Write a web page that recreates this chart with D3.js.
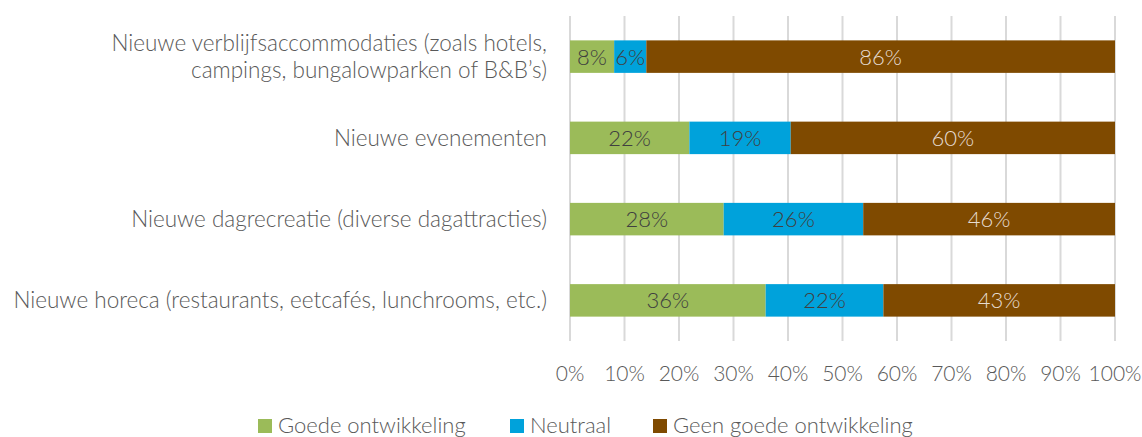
<!DOCTYPE html>
<html>
<head>
<meta charset="utf-8">
<script src="https://cdn.jsdelivr.net/npm/d3@7"></script>
<style>
  body { margin: 0; background: #fff; }
  svg text { font-family: "Source Sans Pro", Lato, "Open Sans", sans-serif; font-weight: 300; }
</style>
</head>
<body>
<div class="chart"></div>
<script>
var categories = [
  ["Nieuwe verblijfsaccommodaties (zoals hotels,", "campings, bungalowparken of B&B\u2019s)"],
  ["Nieuwe evenementen"],
  ["Nieuwe dagrecreatie (diverse dagattracties)"],
  ["Nieuwe horeca (restaurants, eetcafés, lunchrooms, etc.)"]
];
var seriesNames = ["Goede ontwikkeling", "Neutraal", "Geen goede ontwikkeling"];
var goede = [8.1, 21.9, 28.2, 35.9];
var neutraal = [5.9, 18.6, 25.6, 21.6];
var geen = [86.0, 59.5, 46.2, 42.5];
var ticks = [0, 10, 20, 30, 40, 50, 60, 70, 80, 90, 100];
var colors = ["#9BBB59", "#00A2DB", "#7F4A00"];
var labelColors = ["#404040", "#404040", "#E6DCD2"];

var width = 1142, height = 437;
var svg = d3.select(".chart").append("svg")
  .attr("width", width)
  .attr("height", height);

var x = d3.scaleLinear().domain([0, 100]).range([570, 1115]);
var y = d3.scaleBand().domain(d3.range(categories.length)).range([16, 341]).paddingInner(0.6).paddingOuter(0.3);

// gridlines
svg.append("g").selectAll("line")
  .data(ticks)
  .enter().append("line")
  .attr("x1", function(d) { return x(d); })
  .attr("x2", function(d) { return x(d); })
  .attr("y1", 16)
  .attr("y2", 341)
  .attr("stroke", "#D9D9D9")
  .attr("stroke-width", 2);

// stacked bars
var rows = [];
for (var i = 0; i < categories.length; i++) {
  rows.push({ goede: goede[i], neutraal: neutraal[i], geen: geen[i] });
}
var stack = d3.stack().keys(["goede", "neutraal", "geen"]);
var layers = stack(rows);

var layer = svg.selectAll("g.layer")
  .data(layers)
  .enter().append("g")
  .attr("class", "layer");

layer.selectAll("rect")
  .data(function(d) { return d; })
  .enter().append("rect")
  .attr("x", function(d) { return x(d[0]); })
  .attr("y", function(d, i) { return y(i); })
  .attr("width", function(d) { return x(d[1]) - x(d[0]); })
  .attr("height", y.bandwidth())
  .attr("fill", function(d) { return colors[d3.select(this.parentNode).datum().index]; });

layer.selectAll("text")
  .data(function(d) { return d; })
  .enter().append("text")
  .attr("x", function(d) { return (x(d[0]) + x(d[1])) / 2; })
  .attr("y", function(d, i) { return y(i) + y.bandwidth() / 2; })
  .attr("dy", "0.36em")
  .attr("text-anchor", "middle")
  .style("font-size", "22px")
  .attr("fill", function(d) { return labelColors[d3.select(this.parentNode).datum().index]; })
  .text(function(d) { return Math.round(d[1] - d[0]) + "%"; });

// category labels
var cat = svg.append("g").selectAll("text")
  .data(categories)
  .enter().append("text")
  .attr("x", 547)
  .attr("y", function(d, i) { return y(i) + y.bandwidth() / 2; })
  .attr("text-anchor", "end")
  .attr("fill", "#595959")
  .style("font-size", "22.5px");
cat.selectAll("tspan")
  .data(function(d) { return d; })
  .enter().append("tspan")
  .attr("x", 547)
  .attr("dy", function(d, j, nodes) {
    var n = nodes.length;
    return j === 0 ? ((0.36 - (n - 1) * 0.6) + "em") : "1.2em";
  })
  .text(function(d) { return d; });

// x axis labels
svg.append("g").selectAll("text")
  .data(ticks)
  .enter().append("text")
  .attr("x", function(d) { return x(d); })
  .attr("y", 373)
  .attr("dy", "0.36em")
  .attr("text-anchor", "middle")
  .attr("fill", "#595959")
  .style("font-size", "21px")
  .text(function(d) { return d + "%"; });

// legend
var legendX = [258, 510, 653];
var legend = svg.append("g").selectAll("g")
  .data(seriesNames)
  .enter().append("g")
  .attr("transform", function(d, i) { return "translate(" + legendX[i] + ",0)"; });
legend.append("rect")
  .attr("x", 0)
  .attr("y", 419)
  .attr("width", 14)
  .attr("height", 14)
  .attr("fill", function(d, i) { return colors[i]; });
legend.append("text")
  .attr("x", 20)
  .attr("y", 433)
  .attr("fill", "#595959")
  .style("font-size", "22px")
  .text(function(d) { return d; });
</script>
</body>
</html>
